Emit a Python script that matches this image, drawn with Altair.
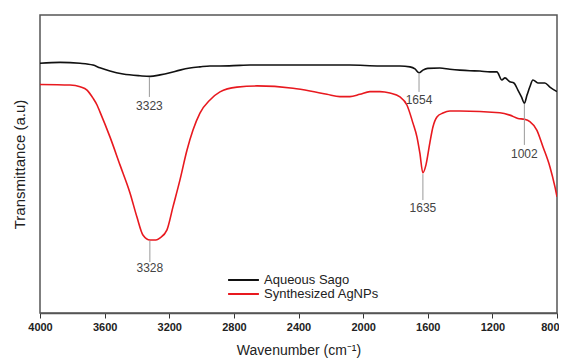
import altair as alt
import pandas as pd

# Aqueous Sago (black) spectrum
sago_wn = [4000, 3876, 3752, 3672, 3629, 3567, 3486, 3381, 3319, 3257, 3196, 3134, 3072, 3010,
           2948, 2886, 2762, 2700, 2391, 2082, 1896, 1772, 1710, 1679, 1654, 1630, 1600, 1525,
           1463, 1401, 1339, 1277, 1215, 1172, 1141, 1122, 1092, 1067, 1042, 1020, 1002, 985,
           968, 949, 918, 875, 844, 800]
sago_t = [83.8, 84.1, 83.8, 83.2, 82.3, 81.2, 80.2, 79.6, 79.4, 79.9, 80.6, 81.5, 82.2, 82.6,
          82.9, 82.9, 83.1, 83.2, 83.2, 83.2, 82.9, 82.9, 82.6, 81.9, 80.6, 81.5, 82.1, 82.2,
          81.8, 81.5, 81.3, 81.2, 80.9, 80.9, 78.2, 78.9, 77.6, 77.2, 74.8, 72.5, 70.4, 73.2,
          75.9, 78.2, 77.2, 77.2, 75.8, 74.3]

# Synthesized AgNPs (red) spectrum
agnp_wn = [4000, 3814, 3752, 3709, 3672, 3647, 3629, 3567, 3505, 3443, 3400, 3363, 3319, 3282,
           3257, 3214, 3177, 3134, 3090, 3053, 3010, 2948, 2886, 2781, 2657, 2434, 2329, 2224,
           2144, 2082, 2020, 1958, 1896, 1834, 1772, 1729, 1692, 1667, 1649, 1630, 1611, 1587,
           1568, 1543, 1506, 1463, 1401, 1154, 1092, 1042, 1001, 968, 925, 887, 844, 813, 800]
agnp_t = [76.7, 76.5, 75.9, 74.8, 72.1, 69.8, 67.5, 59.1, 49.7, 40.3, 32.2, 26.2, 24.5, 24.5,
          25.2, 27.9, 35.6, 44.6, 54.7, 61.4, 67.1, 71.5, 74.2, 75.8, 76.2, 75.4, 74.5, 73.4,
          72.6, 72.6, 73.4, 74.3, 74.3, 73.8, 72.5, 69.8, 63.8, 59.1, 53.7, 47.0, 49.7, 57.1,
          62.4, 65.8, 67.1, 67.8, 67.8, 67.2, 66.4, 65.3, 65.0, 64.2, 61.4, 55.8, 49.1, 42.4, 39.0]

# Peak annotations
peak_x = [3323, 3320, 1654, 1630, 1002]
peak_labels = ["3323", "3328", "1654", "1635", "1002"]
peak_top = [79.2, 24.2, 80.4, 46.6, 70.2]
peak_bottom = [72.5, 17.1, 74.2, 37.9, 56.4]
peak_label_y = [69.6, 15.0, 71.6, 35.4, 53.5]

series_names = ["Aqueous Sago", "Synthesized AgNPs"]
x_ticks = [4000, 3600, 3200, 2800, 2400, 2000, 1600, 1200, 800]

df = pd.concat([
    pd.DataFrame({"wn": sago_wn, "t": sago_t, "series": series_names[0], "order": range(len(sago_wn))}),
    pd.DataFrame({"wn": agnp_wn, "t": agnp_t, "series": series_names[1], "order": range(len(agnp_wn))}),
])
peaks = pd.DataFrame({"x": peak_x, "label": peak_labels, "top": peak_top,
                      "bottom": peak_bottom, "ly": peak_label_y})

FONT = "Liberation Sans"

xscale = alt.Scale(domain=[800, 4000], reverse=True, nice=False, zero=False)
yscale = alt.Scale(domain=[0, 100], nice=False, zero=False)

lines = alt.Chart(df).mark_line(strokeWidth=1.6, clip=True, interpolate="monotone").encode(
    x=alt.X("wn:Q", scale=xscale,
            axis=alt.Axis(values=x_ticks, title="Wavenumber (cm\u207b\u00b9)", format="d",
                          labelFont=FONT, labelFontSize=11, labelFontWeight="bold",
                          labelColor="#222", labelPadding=3, tickSize=5, tickColor="#333",
                          tickWidth=1, domainColor="#555", domainWidth=1.5, grid=False,
                          labelAlign=alt.expr("datum.value == 800 ? 'right' : 'center'"),
                          labelOffset=alt.expr("datum.value == 800 ? 2 : 0"),
                          titleFont=FONT, titleFontSize=14, titleFontWeight="normal",
                          titleColor="#222", titlePadding=11, labelFlush=False)),
    y=alt.Y("t:Q", scale=yscale,
            axis=alt.Axis(labels=False, ticks=False, domain=False, grid=False,
                          title="Transmittance (a.u)", titleFont=FONT, titleFontSize=15,
                          titleFontWeight="normal", titleColor="#222", titlePadding=13)),
    color=alt.Color("series:N",
                    scale=alt.Scale(domain=series_names, range=["#111111", "#e8191f"]),
                    legend=alt.Legend(title=None, orient="none", legendX=187, legendY=258,
                                      symbolType="stroke", symbolSize=950, symbolStrokeWidth=2,
                                      clipHeight=14, labelFont=FONT, labelFontSize=13,
                                      labelColor="#222", labelOffset=4, rowPadding=0,
                                      padding=0)),
    order="order:Q",
)

rules = alt.Chart(peaks).mark_rule(color="#999999", strokeWidth=1).encode(
    x="x:Q", y="top:Q", y2="bottom:Q")

texts = alt.Chart(peaks).mark_text(font=FONT, fontSize=12, color="#444444",
                                   baseline="middle", align="center").encode(
    x="x:Q", y="ly:Q", text="label:N")

chart = alt.layer(lines, rules, texts).properties(
    width=517, height=298,
    autosize=alt.AutoSizeParams(type="none"),
    padding={"left": 32, "top": 7, "right": 2, "bottom": 45},
).configure_view(stroke="#555555", strokeWidth=1.5)

chart.save("out.html", embed_options={"renderer": "svg", "actions": False})
